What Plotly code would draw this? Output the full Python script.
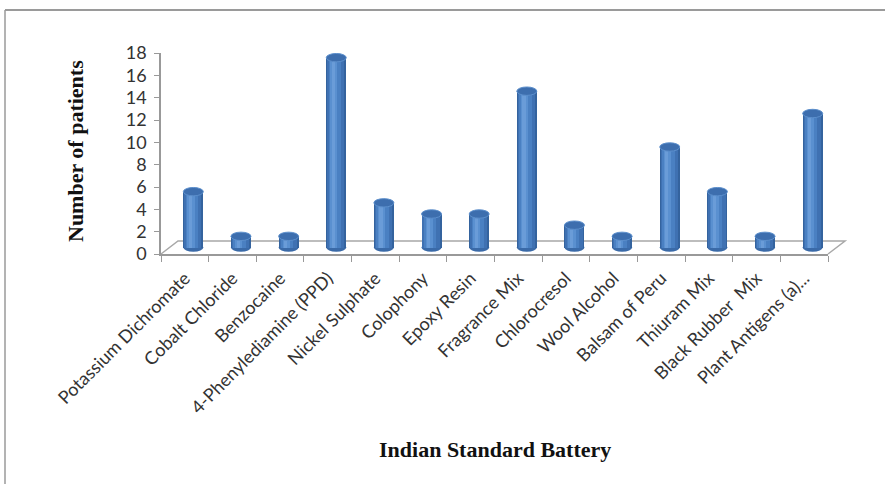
import plotly.graph_objects as go

categories = ["Potassium Dichromate", "Cobalt Chloride", "Benzocaine",
              "4-Phenylediamine (PPD)", "Nickel Sulphate", "Colophony",
              "Epoxy Resin", "Fragrance Mix", "Chlorocresol", "Wool Alcohol",
              "Balsam of Peru", "Thiuram Mix", "Black Rubber\u00a0 Mix",
              "Plant Antigens (a)..."]
patients = [5, 1, 1, 17, 4, 3, 3, 14, 2, 1, 9, 5, 1, 12]
y_ticks = [0, 2, 4, 6, 8, 10, 12, 14, 16, 18]

W, H = 885, 484
L, R, T, B = 161, 57, 53, 230
pw, ph = W - L - R, H - T - B
n = len(categories)
slot = pw / n
upy = ph / 18.0

# depth shift of the bars (mid-depth of the 3D floor)
dx_px, dy_px = 8.5, 6.5
dx = dx_px / slot
dy = dy_px / upy

fig = go.Figure()

# invisible trace carrying the visible front axes
fig.add_trace(go.Bar(x=categories, y=patients, xaxis="x", yaxis="y",
                     marker=dict(color="rgba(0,0,0,0)", line=dict(width=0)),
                     hoverinfo="skip", showlegend=False))

bw = 0.42
layers = [
    (bw, 0.0, "#34639E"),
    (bw * 0.86, -0.01, "#3F71B2"),
    (bw * 0.62, -0.03, "#4A80C2"),
    (bw * 0.36, -0.05, "#5A90D0"),
    (bw * 0.16, -0.06, "#6A9CD8"),
]
for w, off, col in layers:
    fig.add_trace(go.Bar(
        x=categories, y=patients, xaxis="x2", yaxis="y2",
        width=w, offset=-w / 2 + off,
        marker=dict(color=col, line=dict(width=0)),
        hoverinfo="skip", showlegend=False))

shapes = []
def px2x(px):
    return (px - L) / pw
def py2y(py):
    return (T + ph - py) / ph

# 3D floor
floor_pts = [(L, T + ph), (L + 2 * dx_px, T + ph - 2 * dy_px),
             (L + pw + 2 * dx_px, T + ph - 2 * dy_px), (L + pw, T + ph)]
path = "M " + " L ".join(f"{px2x(a)},{py2y(b)}" for a, b in floor_pts)
shapes.append(dict(type="path", path=path, xref="paper", yref="paper",
                   line=dict(color="#A8A8A8", width=1.5), fillcolor="rgba(0,0,0,0)",
                   layer="below"))

eh = 4.2 / upy
for i, v in enumerate(patients):
    shapes.append(dict(type="circle", xref="x2", yref="y2",
                       x0=i - bw / 2, x1=i + bw / 2, y0=-eh, y1=eh,
                       fillcolor="#3A6AA8", line=dict(width=0), layer="below"))
    shapes.append(dict(type="circle", xref="x2", yref="y2",
                       x0=i - bw / 2, x1=i + bw / 2, y0=v - eh, y1=v + eh,
                       fillcolor="#3D6EAE", line=dict(color="#5C8FCC", width=1),
                       layer="above"))

# outer frame
shapes.append(dict(type="line", xref="paper", yref="paper",
                   x0=px2x(5), x1=px2x(W + 5), y0=py2y(10), y1=py2y(10),
                   line=dict(color="#9A9A9A", width=2)))
shapes.append(dict(type="line", xref="paper", yref="paper",
                   x0=px2x(5), x1=px2x(5), y0=py2y(10), y1=py2y(H + 5),
                   line=dict(color="#9A9A9A", width=1.5)))

annotations = [
    dict(text="<b>Number of patients</b>", textangle=-90, xref="paper", yref="paper",
         x=px2x(75), y=py2y(151), showarrow=False, xanchor="center", yanchor="middle",
         font=dict(family="Liberation Serif", size=22, color="#111")),
    dict(text="<b>Indian Standard Battery</b>", xref="paper", yref="paper",
         x=px2x(495), y=py2y(449), showarrow=False, xanchor="center", yanchor="middle",
         font=dict(family="Liberation Serif", size=22, color="#111")),
]

fig.update_layout(
    width=W, height=H,
    margin=dict(l=L, r=R, t=T, b=B, autoexpand=False),
    paper_bgcolor="white", plot_bgcolor="rgba(0,0,0,0)",
    barmode="overlay", bargap=0,
    shapes=shapes, annotations=annotations,
    xaxis=dict(type="category", categoryorder="array", categoryarray=categories,
               range=[-0.5, n - 0.5], tickson="boundaries", ticks="outside",
               ticklen=6, tickcolor="#999", showline=True, linecolor="#999",
               linewidth=1.5, tickangle=-45, showgrid=False, zeroline=False,
               ticklabelstandoff=5,
               tickfont=dict(family="Lato", size=18, color="#333")),
    yaxis=dict(range=[0, 18], tickvals=y_ticks, ticks="outside", ticklen=5,
               tickcolor="#999", showline=True, linecolor="#999", linewidth=1.5,
               showgrid=False, zeroline=False, ticklabelstandoff=4,
               tickfont=dict(family="Lato", size=18, color="#333")),
    xaxis2=dict(type="category", categoryorder="array", categoryarray=categories,
                overlaying="x", range=[-0.5 - dx, n - 0.5 - dx], showticklabels=False,
                showline=False, showgrid=False, zeroline=False, ticks=""),
    yaxis2=dict(overlaying="y", range=[-dy, 18 - dy], showticklabels=False,
                showline=False, showgrid=False, zeroline=False, ticks=""),
)

fig.write_html("out.html")
